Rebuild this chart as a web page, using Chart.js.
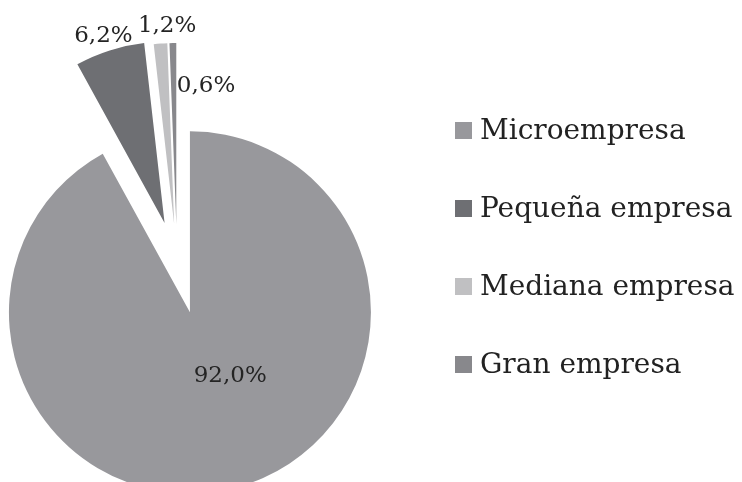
<!DOCTYPE html>
<html>
<head>
<meta charset="utf-8">
<script src="https://cdn.jsdelivr.net/npm/chart.js@4"></script>
<style>
  html, body { margin: 0; padding: 0; background: #fff; }
  #wrap { position: relative; width: 742px; height: 482px; overflow: hidden; }
  #chart { position: absolute; left: 0; top: 0; }
  .leg { position: absolute; left: 455px; white-space: nowrap;
         font-family: 'DejaVu Serif', serif; font-size: 28px; line-height: 34px; color: #222; }
  .leg i { display: inline-block; width: 17px; height: 17px; margin-right: 8px; vertical-align: baseline; }
</style>
</head>
<body>
<div id="wrap">
  <canvas id="chart" width="742" height="482"></canvas>
  <div id="legend"></div>
</div>
<script>
/* ── data ─────────────────────────────────────────── */
const categories = ['Microempresa', 'Pequeña empresa', 'Mediana empresa', 'Gran empresa'];
const shares     = [92.0, 6.2, 1.2, 0.6];
const colors     = ['#98989c', '#6e6f73', '#c0c0c2', '#88888c'];

/* ── style ────────────────────────────────────────── */
const explode    = [52, 41, 38, 38];          // px each slice is pulled out
const labelAngle = [65, -108, -92.4, -80.6];  // deg, label direction from pie centre
const labelDist  = [126, 238, 236, 178];      // px from pie centre

const fmt = v => v.toFixed(1).replace('.', ',') + '%';

// pull slices out along their bisector (keeps radius unchanged)
const explodePlugin = {
  id: 'explode',
  beforeDatasetsDraw(chart) {
    const a = chart.chartArea;
    const cx = (a.left + a.right) / 2, cy = (a.top + a.bottom) / 2;
    chart.getDatasetMeta(0).data.forEach((arc, i) => {
      const half = (arc.startAngle + arc.endAngle) / 2;
      arc.x = cx + Math.cos(half) * explode[i];
      arc.y = cy + Math.sin(half) * explode[i];
    });
  }
};

// percentage labels
const labelPlugin = {
  id: 'pctLabels',
  afterDatasetsDraw(chart) {
    const ctx = chart.ctx, a = chart.chartArea;
    const cx = (a.left + a.right) / 2, cy = (a.top + a.bottom) / 2;
    ctx.save();
    ctx.font = '23px "DejaVu Serif"';
    ctx.fillStyle = '#242424';
    ctx.textAlign = 'center';
    ctx.textBaseline = 'middle';
    shares.forEach((v, i) => {
      const r = labelAngle[i] * Math.PI / 180;
      ctx.fillText(fmt(v), cx + Math.cos(r) * labelDist[i], cy + Math.sin(r) * labelDist[i]);
    });
    ctx.restore();
  }
};

new Chart(document.getElementById('chart'), {
  type: 'pie',
  data: {
    labels: categories,
    datasets: [{ data: shares, backgroundColor: colors, borderWidth: 0 }]
  },
  options: {
    responsive: false,
    animation: false,
    radius: 181,
    layout: { padding: { left: 0, right: 388, top: 42, bottom: 0 } },
    plugins: { legend: { display: false }, tooltip: { enabled: false } }
  },
  plugins: [explodePlugin, labelPlugin]
});

/* ── legend (html) ────────────────────────────────── */
const legEl = document.getElementById('legend');
categories.forEach((name, i) => {
  const row = document.createElement('div');
  row.className = 'leg';
  row.style.top = (113 + i * 78) + 'px';
  row.innerHTML = '<i style="background:' + colors[i] + '"></i>' + name;
  legEl.appendChild(row);
});
</script>
</body>
</html>
